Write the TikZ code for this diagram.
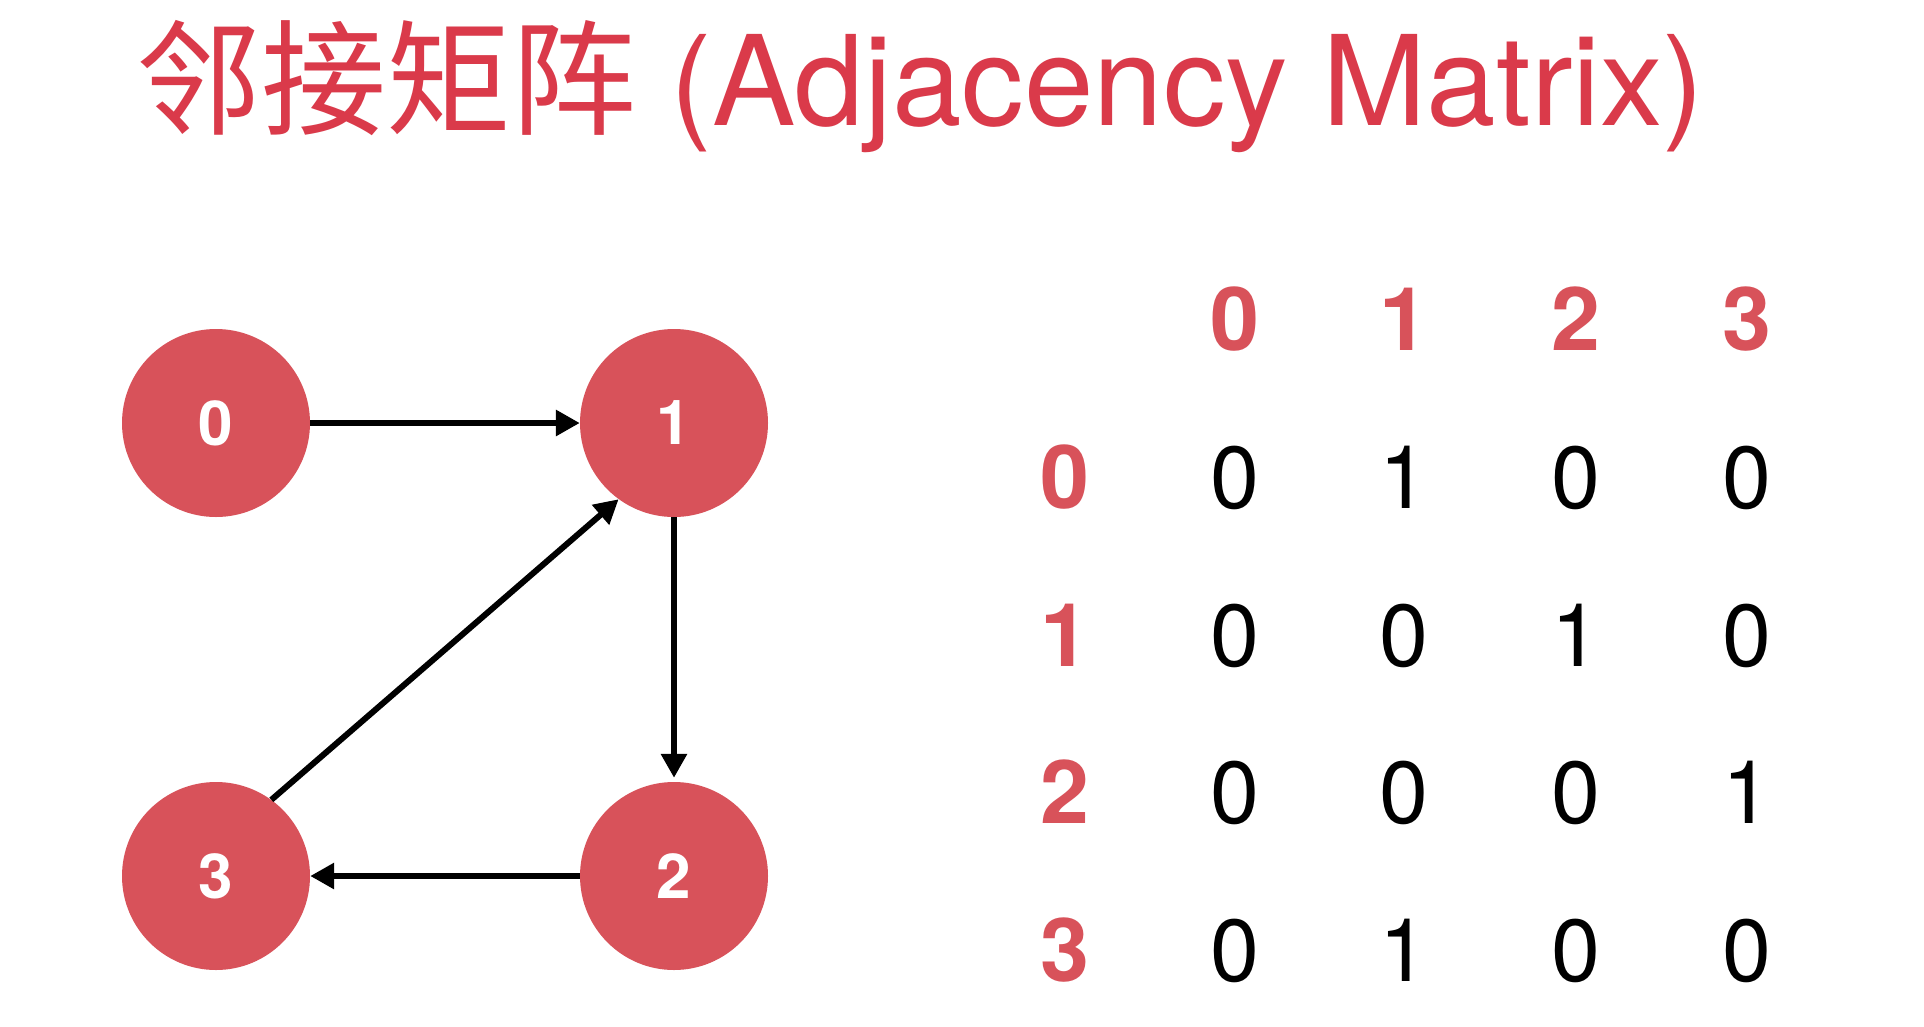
\documentclass[tikz,border=0pt]{standalone}
\usepackage{fontspec}
\setmainfont{TeX Gyre Heros}
\newfontfamily\cjk{Noto Sans CJK SC}
\usetikzlibrary{arrows.meta}
\definecolor{titlered}{RGB}{218,58,74}
\definecolor{nodered}{RGB}{216,82,90}
\begin{document}
\begin{tikzpicture}[x=1pt,y=-1pt,
  vert/.style={circle,fill=nodered,minimum size=188pt,inner sep=0pt,text=white,font=\fontsize{62}{66}\selectfont\bfseries},
  edge/.style={line width=6pt,-{Triangle[length=24pt,width=25pt]}},
  hdr/.style={anchor=base,text=nodered,inner sep=0pt,font=\fontsize{88}{90}\selectfont\bfseries},
  cell/.style={anchor=base,inner sep=0pt,font=\fontsize{88}{90}\selectfont}]
\useasboundingbox (0,0) rectangle (1924,1026);
\fill[white] (0,0) rectangle (1924,1026);
\node[anchor=base west,text=titlered,inner sep=0pt,font=\fontsize{125}{130}\selectfont] (title) at (136,125) {{\cjk 邻接矩阵} (Adjacency Matrix)};
% graph
\node[vert] (n0) at (216,423) {0};
\node[vert] (n1) at (674,423) {1};
\node[vert] (n2) at (674,876) {2};
\node[vert] (n3) at (216,876) {3};
\draw[edge] (n0) -- (n1);
\draw[edge,shorten >=4pt] (n1) -- (n2);
\draw[edge] (n2) -- (n3);
\draw[edge] (n3.54) -- (n1.234);
% matrix headers
\foreach \i/\x in {0/1235,1/1404,2/1576,3/1747}
  \node[hdr] (c\i) at (\x,350) {\i};
\foreach \i/\y in {0/508,1/666,2/823,3/981}
  \node[hdr] (r\i) at (1065,\y) {\i};
% matrix cells
\foreach \r/\y/\a/\b/\c/\d in {0/508/0/1/0/0,1/666/0/0/1/0,2/823/0/0/0/1,3/981/0/1/0/0}{
  \node[cell] (m\r0) at (1235,\y) {\a};
  \node[cell] (m\r1) at (1404,\y) {\b};
  \node[cell] (m\r2) at (1576,\y) {\c};
  \node[cell] (m\r3) at (1747,\y) {\d};
}
\end{tikzpicture}
\end{document}
